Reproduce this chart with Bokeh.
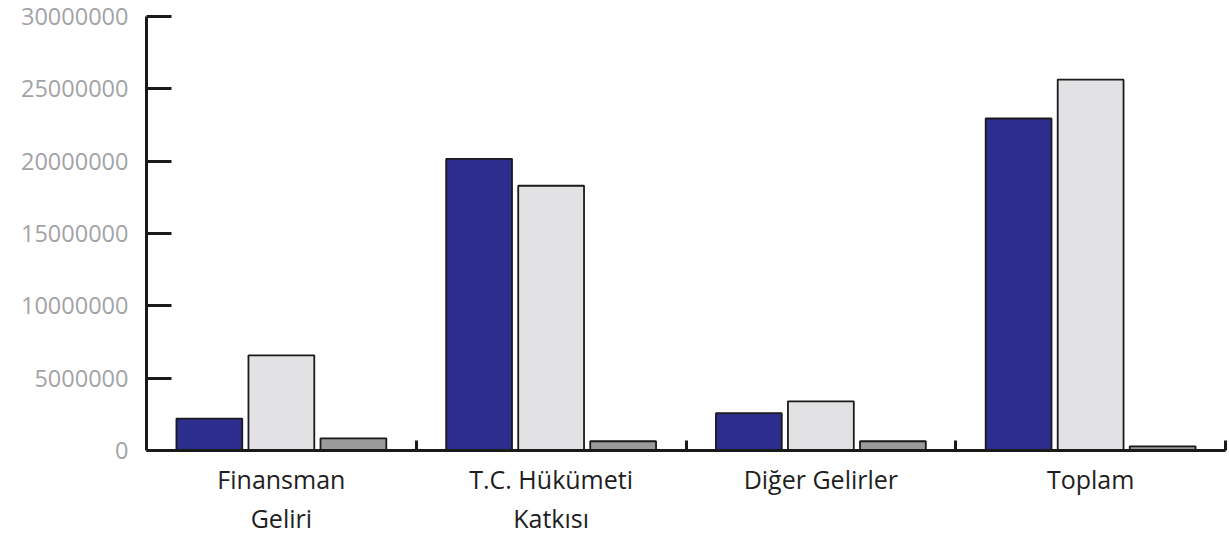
from bokeh.plotting import figure
from bokeh.models import ColumnDataSource, FixedTicker, NumeralTickFormatter, Range1d
from bokeh.embed import file_html
from bokeh.resources import INLINE

categories = ["Finansman\nGeliri", "T.C. Hükümeti\nKatkısı", "Diğer Gelirler", "Toplam"]
series_a = [2210000, 20160000, 2580000, 22950000]
series_b = [6580000, 18300000, 3400000, 25640000]
series_c = [840000, 640000, 640000, 290000]
y_ticks = [0, 5000000, 10000000, 15000000, 20000000, 25000000, 30000000]

centers = [i + 0.5 for i in range(len(categories))]
boundaries = [i + 1 for i in range(len(categories))]

p = figure(width=1229, height=537, output_backend="svg", toolbar_location=None,
           x_range=Range1d(0, len(categories)), y_range=Range1d(0, 30000000),
           min_border_left=146, min_border_top=16, min_border_right=4, min_border_bottom=87)
p.outline_line_color = None
p.grid.grid_line_color = None
p.background_fill_color = "white"

off = 0.267
w = 0.244
colors = ["#2D2D8E", "#E2E2E4", "#9A9A9A"]
for k, (vals, col) in enumerate(zip([series_a, series_b, series_c], colors)):
    src = ColumnDataSource(dict(x=[c + (k - 1) * off for c in centers], top=vals))
    p.vbar(x="x", top="top", bottom=0, width=w, source=src, fill_color=col,
           line_color="#1a1a1a", line_width=1.8)

# y axis
ya = p.yaxis[0]
ya.ticker = FixedTicker(ticks=y_ticks)
ya.formatter = NumeralTickFormatter(format="0")
ya.axis_line_color = "#1a1a1a"
ya.axis_line_width = 3
ya.major_tick_line_color = "#1a1a1a"
ya.major_tick_line_width = 3
ya.major_tick_in = 25
ya.major_tick_out = 0
ya.minor_tick_line_color = None
ya.major_label_standoff = 18
ya.major_label_text_color = "#a3a3a6"
ya.major_label_text_font = "Open Sans"
ya.major_label_text_font_size = "23.5px"

# x axis
xa = p.xaxis[0]
xa.ticker = FixedTicker(ticks=centers, minor_ticks=boundaries)
xa.major_label_overrides = {c: lab for c, lab in zip(centers, categories)}
xa.axis_line_color = "#1a1a1a"
xa.axis_line_width = 3
xa.major_tick_line_color = None
xa.major_tick_in = 0
xa.major_tick_out = 0
xa.minor_tick_line_color = "#1a1a1a"
xa.minor_tick_line_width = 3
xa.minor_tick_in = 10
xa.minor_tick_out = 0
xa.major_label_standoff = 11
xa.major_label_text_color = "#1e1e1e"
xa.major_label_text_font = "Open Sans"
xa.major_label_text_font_size = "25px"
xa.major_label_text_line_height = 1.15

open("out.html", "w").write(file_html(p, INLINE))
